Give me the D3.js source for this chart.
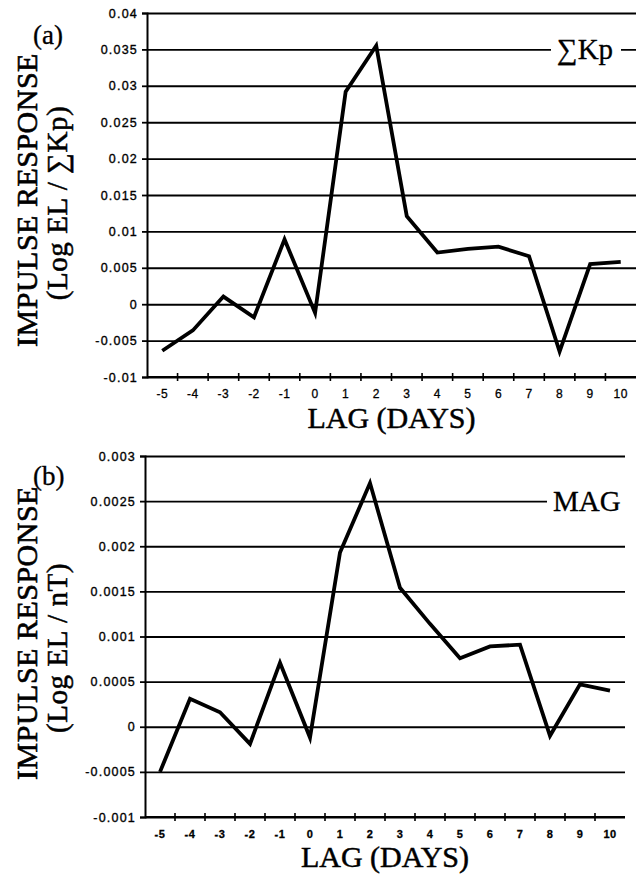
<!DOCTYPE html>
<html>
<head>
<meta charset="utf-8">
<script src="https://cdn.jsdelivr.net/npm/d3@7"></script>
<style>
  body { margin: 0; background: #fff; }
  svg { display: block; }
</style>
</head>
<body>
<div id="chart"></div>
<script>
const width = 638,
  height = 875;

// lag in days, same for both panels
const lags = [-5, -4, -3, -2, -1, 0, 1, 2, 3, 4, 5, 6, 7, 8, 9, 10];

// (a) impulse response to sum Kp
const kpResponse = [-0.0064, -0.0036, 0.00105, -0.0018, 0.0089, -0.0012, 0.0292, 0.0355,
  0.0121, 0.0071, 0.0076, 0.0079, 0.0066, -0.0065, 0.0055, 0.0058];
const kpTicks = [0.04, 0.035, 0.03, 0.025, 0.02, 0.015, 0.01, 0.005, 0, -0.005, -0.01];
const kpTickLabels = ["0.04", "0.035", "0.03", "0.025", "0.02", "0.015", "0.01", "0.005", "0", "-0.005", "-0.01"];

// (b) impulse response to MAG
const magResponse = [-0.0005, 0.00031, 0.00016, -0.00019, 0.00071, -0.00012, 0.00193, 0.0027,
  0.00154, 0.00114, 0.00076, 0.00089, 0.00091, -0.0001, 0.00047, 0.0004];
const magTicks = [0.003, 0.0025, 0.002, 0.0015, 0.001, 0.0005, 0, -0.0005, -0.001];
const magTickLabels = ["0.003", "0.0025", "0.002", "0.0015", "0.001", "0.0005", "0", "-0.0005", "-0.001"];

const serif = '"Times New Roman", "Liberation Serif", serif';
const sans = '"Liberation Sans", Arial, sans-serif';

const svg = d3.select('#chart').append('svg')
  .attr('width', width)
  .attr('height', height);

// scanned print looks heavier, a thin stroke on text imitates it
function inked(s, w) {
  s.attr('stroke', '#000').attr('stroke-width', w).attr('fill', '#000');
}

function drawPanel(p) {
  const x = d3.scaleBand()
    .domain(lags)
    .range([p.left, p.right]);

  const y = d3.scaleLinear()
    .domain(d3.extent(p.ticks))
    .range([p.bottom, p.top]);

  const g = svg.append('g');

  // horizontal grid lines
  g.append('g')
    .attr('transform', `translate(${p.left},0)`)
    .call(d3.axisLeft(y).tickValues(p.ticks).tickSize(-(p.right - p.left)).tickFormat(''))
    .call(s => s.select('.domain').remove())
    .call(s => s.selectAll('line').attr('stroke', '#000').attr('stroke-width', 1.9));

  // y axis with labels
  g.append('g')
    .attr('transform', `translate(${p.left},0)`)
    .call(d3.axisLeft(y).tickValues(p.ticks).tickSize(5).tickPadding(4)
      .tickFormat((d, i) => p.tickLabels[i]))
    .call(s => s.select('.domain').attr('stroke', '#000').attr('stroke-width', 2))
    .call(s => s.selectAll('line').attr('stroke', '#000').attr('stroke-width', 1.8))
    .call(s => s.selectAll('text')
      .attr('font-family', sans)
      .attr('font-size', 12.5)
      .attr('letter-spacing', 1.2)
      .call(inked, 0.35));

  // x axis: crossing ticks at category boundaries
  const bounds = lags.slice(1).map(d => x(d));
  g.append('line')
    .attr('x1', p.left).attr('x2', p.right)
    .attr('y1', p.bottom).attr('y2', p.bottom)
    .attr('stroke', '#000').attr('stroke-width', 2);
  g.selectAll('.xtick')
    .data(bounds)
    .join('line')
    .attr('class', 'xtick')
    .attr('x1', d => d).attr('x2', d => d)
    .attr('y1', p.bottom - 4).attr('y2', p.bottom + 4)
    .attr('stroke', '#000').attr('stroke-width', 1.6);
  g.selectAll('.xlabel')
    .data(lags)
    .join('text')
    .attr('class', 'xlabel')
    .attr('x', d => x(d) + x.bandwidth() / 2)
    .attr('y', p.xLabelY)
    .attr('text-anchor', 'middle')
    .attr('font-family', sans)
    .attr('font-size', p.xLabelSize)
    .attr('font-weight', p.xLabelWeight)
    .attr('letter-spacing', 0.5)
    .call(inked, 0.3)
    .text(d => String(d));

  g.append('text')
    .attr('x', (p.left + p.right) / 2)
    .attr('y', p.xTitleY)
    .attr('text-anchor', 'middle')
    .attr('font-family', serif)
    .attr('font-size', 30)
    .call(inked, 0.5)
    .text('LAG (DAYS)');

  // legend label, white box breaks the grid line under it
  g.append('rect')
    .attr('x', p.legendX - 6)
    .attr('y', y(p.legendAt) - 4)
    .attr('width', p.legendW)
    .attr('height', 8)
    .attr('fill', '#fff');
  g.append('text')
    .attr('x', p.legendX)
    .attr('y', y(p.legendAt) + 10)
    .attr('font-family', serif)
    .attr('font-size', 29)
    .call(inked, 0.3)
    .text(p.legend);

  // y titles, rotated
  g.append('text')
    .attr('transform', `translate(37,${p.title1Y}) rotate(-90)`)
    .attr('text-anchor', 'middle')
    .attr('font-family', serif)
    .attr('font-size', 30)
    .attr('letter-spacing', 0.5)
    .call(inked, 0.6)
    .text('IMPULSE RESPONSE');
  g.append('text')
    .attr('transform', `translate(67,${p.title2Y}) rotate(-90)`)
    .attr('text-anchor', 'middle')
    .attr('font-family', serif)
    .attr('font-size', 29)
    .attr('letter-spacing', 0.6)
    .call(inked, 0.5)
    .text(p.title2);
  g.append('text')
    .attr('x', 33)
    .attr('y', p.tagY)
    .attr('font-family', serif)
    .attr('font-size', 27)
    .call(inked, 0.3)
    .text(p.tag);

  // response line
  const line = d3.line()
    .x((d, i) => x(lags[i]) + x.bandwidth() / 2)
    .y(d => y(d));

  g.append('path')
    .datum(p.values)
    .attr('fill', 'none')
    .attr('stroke', '#000')
    .attr('stroke-width', 3.8)
    .attr('stroke-linejoin', 'miter')
    .attr('d', line);
}

drawPanel({
  left: 147, right: 636, top: 13, bottom: 377,
  ticks: kpTicks, tickLabels: kpTickLabels, values: kpResponse,
  xLabelY: 398, xLabelSize: 12, xLabelWeight: 'normal', xTitleY: 428,
  legend: '∑Kp', legendAt: 0.035, legendX: 557, legendW: 70,
  title1Y: 200, title2Y: 203, title2: '(Log EL / ∑Kp)',
  tag: '(a)', tagY: 44
});

drawPanel({
  left: 145, right: 625, top: 456, bottom: 817,
  ticks: magTicks, tickLabels: magTickLabels, values: magResponse,
  xLabelY: 838, xLabelSize: 11, xLabelWeight: 'bold', xTitleY: 867,
  legend: 'MAG', legendAt: 0.0025, legendX: 553, legendW: 80,
  title1Y: 633, title2Y: 648, title2: '(Log EL / nT)',
  tag: '(b)', tagY: 485
});
</script>
</body>
</html>
